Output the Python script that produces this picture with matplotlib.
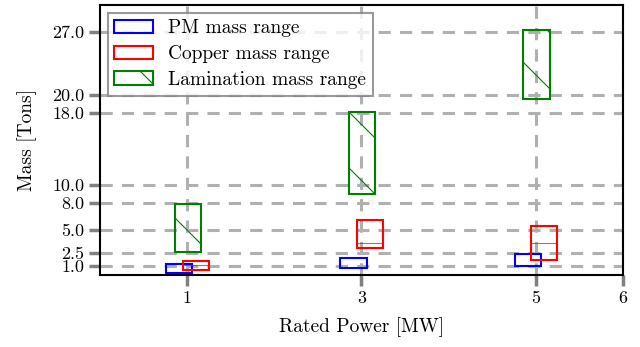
import numpy as np
import matplotlib
matplotlib.use("Agg")
import matplotlib.pyplot as plt
from matplotlib.collections import LineCollection
from matplotlib.transforms import IdentityTransform

# Mass ranges (tons) for each rated power
power = np.array([1, 3, 5])
pm_low = [0.2, 0.8, 1.0]
pm_high = [1.2, 1.9, 2.35]
copper_low = [0.6, 3.0, 1.65]
copper_high = [1.6, 6.1, 5.5]
copper_median = [1.1, 3.55, 3.6]
lam_low = [2.6, 9.0, 19.6]
lam_high = [7.9, 18.1, 27.2]

yticks = [1.0, 2.5, 5.0, 8.0, 10.0, 18.0, 20.0, 27.0]
xticks = [1, 3, 5, 6]

plt.rcParams["font.family"] = "serif"
plt.rcParams["font.serif"] = ["cmr10", "DejaVu Serif"]
plt.rcParams["axes.formatter.use_mathtext"] = True

fig = plt.figure(figsize=(6.4, 3.47), dpi=100)
ax = fig.add_axes([0.156, 0.207, 0.817, 0.779])

width = 0.3
lw = 1.5
pm_x = power - 0.09
cu_x = power + 0.1
lam_x = power + 0.01

ax.bar(pm_x, np.subtract(pm_high, pm_low), bottom=pm_low, width=width,
       fill=False, edgecolor="blue", linewidth=lw, zorder=3,
       label="PM mass range")
ax.bar(cu_x, np.subtract(copper_high, copper_low), bottom=copper_low,
       width=width, fill=False, edgecolor="red", linewidth=lw, zorder=3,
       label="Copper mass range")
lam_bars = ax.bar(lam_x, np.subtract(lam_high, lam_low), bottom=lam_low,
                  width=width, fill=False, edgecolor="green", linewidth=lw,
                  zorder=3, label="Lamination mass range")
# median lines of the copper ranges
ax.hlines(copper_median, cu_x - width / 2, cu_x + width / 2, color="red",
          linewidth=0.8, alpha=0.7, zorder=3)

ax.set_xlim(0, 6)
ax.set_ylim(0, 30)
ax.set_xticks(xticks)
ax.set_xticklabels([str(t) for t in xticks])
ax.set_yticks(yticks)
ax.set_yticklabels(["{:.1f}".format(t) for t in yticks])
ax.tick_params(axis="both", direction="out", length=8, width=2.5,
               color="#808080", labelsize=13, pad=3)

ax.grid(True, linestyle="--", color="#b0b0b0", linewidth=2.2,
        dashes=(4, 3), zorder=0)
ax.set_axisbelow(True)
for spine in ax.spines.values():
    spine.set_linewidth(1.5)
    spine.set_color("black")

ax.set_xlabel("Rated Power [MW]", fontsize=14, labelpad=8)
ax.set_ylabel("Mass [Tons]", fontsize=14, labelpad=11)

leg = ax.legend(loc="upper left", fontsize=14, fancybox=False,
                framealpha=0.8, edgecolor="#808080", handlelength=2.0,
                handleheight=0.7, handletextpad=0.75, borderaxespad=0.4,
                labelspacing=0.4, borderpad=0.35)
leg.get_frame().set_linewidth(1.5)

fig.canvas.draw()


def sparse_hatch(patch, color, spacing=56, phase=24):
    """Draw wide diagonal hatch lines clipped to a patch (pixel units)."""
    w, h = fig.canvas.get_width_height()
    segs = []
    for c in np.arange(phase - spacing * 2, w + h + spacing, spacing):
        segs.append([(c - h - 10, h + 10), (c + 10, -10)])
    coll = LineCollection(segs, colors=color, linewidths=0.8,
                          transform=IdentityTransform(), zorder=6)
    coll.set_clip_path(patch)
    fig.add_artist(coll)


for bar in lam_bars:
    sparse_hatch(bar, "green")
sparse_hatch(leg.legend_handles[2], "green")

fig.savefig("out.png", dpi=100)
